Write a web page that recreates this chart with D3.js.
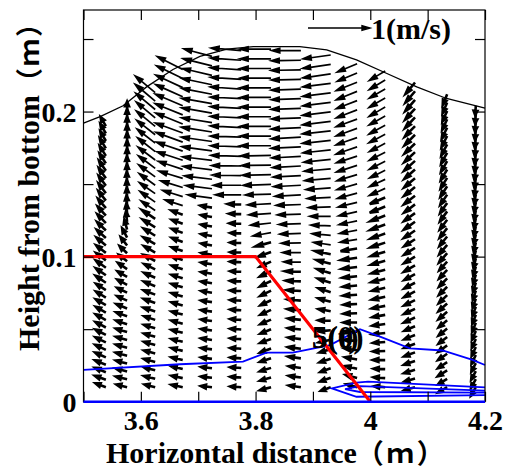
<!DOCTYPE html>
<html><head><meta charset="utf-8">
<script src="https://cdn.jsdelivr.net/npm/d3@7"></script>
<style>body{margin:0;background:#fff}svg{display:block}</style>
</head><body>
<svg id="chart" width="508" height="468"></svg>
<script>
// Grid columns (m) and the height of the top grid node in each column (m)
const colX   = [3.539, 3.576, 3.625, 3.673, 3.724, 3.775, 3.827, 3.879, 3.931, 3.977, 4.026, 4.078, 4.134, 4.184];
const colTop = [0.190, 0.200, 0.213, 0.229, 0.238, 0.242, 0.243, 0.242, 0.239, 0.233, 0.228, 0.220, 0.212, 0.204];
const bedY = 0.010;      // lowest grid node
const nLevels = 36;      // nodes per column, bottom to top

// Flow direction (degrees, 180 = offshore) and speed (m/s) at each node, bottom to top
const dirDeg = [
  [160,160,158,158,156,155, 154,153,152,151,150,150, 148,147,146,145,144,143, 142,140,138,136,134,132, 130,128,127,126,125,124, 123,122,121,120,120,120],
  [166,166,165,165,165,164, 164,163,162,160,158,156, 154,152,150,146,142,136, 128,118,105,96,94,93, 92,92,92,91,91,90, 90,90,90,90,90,90],
  [166,166,165,165,165,164, 164,163,162,162,160,160, 158,156,154,152,150,150, 148,148,146,146,145,145, 144,144,143,143,142,142, 142,141,140,140,140,140],
  [168,168,167,167,166,166, 166,165,165,164,164,163, 163,162,162,161,160,160, 160,160,162,163,163,163, 162,162,161,160,160,158, 158,157,156,155,154,153],
  [174,174,173,173,173,172, 172,172,172,172,171,171, 171,171,170,170,170,170, 170,170,172,173,173,173, 173,172,172,171,171,170, 170,169,168,167,166,165],
  [176,176,176,176,176,176, 176,176,176,177,177,177, 177,177,178,178,178,178, 178,178,180,180,179,179, 178,178,178,177,177,177, 177,176,176,176,176,175],
  [195,196,197,198,200,200, 202,203,204,205,206,206, 205,204,200,195,190,186, 184,183,182,182,181,181, 181,180,180,180,180,180, 180,180,180,180,180,180],
  [172,172,172,172,173,173, 174,174,175,175,176,177, 178,179,180,181,182,182, 182,182,183,183,183,183, 183,183,183,183,182,182, 182,182,181,181,181,180],
  [200,200,200,198,196,192, 185,178,170,165,162,162, 163,165,168,172,175,178, 180,182,183,184,185,185, 186,186,186,186,187,187, 187,187,187,188,188,188],
  [165,165,168,170,172,175, 178,180,182,183,184,185, 186,187,188,189,190,191, 192,193,194,195,196,197, 198,198,199,199,200,200, 201,201,202,202,203,203],
  [175,176,178,180,182,184, 186,188,190,191,192,193, 194,195,196,197,198,199, 200,201,202,203,204,205, 206,207,207,208,208,209, 209,210,210,210,211,211],
  [195,196,197,198,200,201, 202,203,204,205,206,207, 208,209,210,211,212,213, 214,215,216,217,218,219, 220,221,222,223,224,225, 226,227,228,229,230,230],
  [210,211,212,214,215,216, 218,219,220,221,222,224, 225,226,227,228,229,230, 231,232,233,234,235,236, 237,238,239,240,241,242, 243,244,245,246,247,248],
  [240,241,242,243,244,245, 246,247,248,249,250,251, 252,253,254,255,256,257, 258,258,259,259,260,260, 261,261,262,262,263,263, 264,264,265,265,266,266]
];
const speed = [
  [0.18,0.19,0.19,0.19,0.19,0.19, 0.19,0.19,0.19,0.19,0.19,0.19, 0.19,0.19,0.20,0.20,0.20,0.20, 0.20,0.20,0.20,0.20,0.20,0.20, 0.20,0.20,0.20,0.20,0.20,0.20, 0.19,0.19,0.19,0.18,0.18,0.17],
  [0.18,0.19,0.19,0.19,0.19,0.19, 0.19,0.19,0.19,0.19,0.19,0.18, 0.18,0.18,0.18,0.18,0.17,0.17, 0.17,0.17,0.17,0.17,0.17,0.17, 0.17,0.17,0.17,0.17,0.17,0.17, 0.17,0.17,0.17,0.17,0.17,0.16],
  [0.18,0.19,0.19,0.19,0.19,0.19, 0.19,0.19,0.19,0.20,0.20,0.20, 0.20,0.20,0.20,0.21,0.21,0.22, 0.22,0.24,0.26,0.28,0.30,0.31, 0.32,0.33,0.34,0.35,0.36,0.37, 0.38,0.39,0.40,0.41,0.42,0.42],
  [0.19,0.19,0.19,0.19,0.19,0.19, 0.19,0.19,0.19,0.19,0.19,0.19, 0.19,0.19,0.19,0.19,0.19,0.19, 0.19,0.20,0.30,0.34,0.37,0.40, 0.42,0.44,0.45,0.46,0.47,0.47, 0.48,0.48,0.48,0.48,0.47,0.46],
  [0.18,0.18,0.18,0.18,0.18,0.18, 0.18,0.18,0.18,0.18,0.18,0.18, 0.18,0.18,0.18,0.18,0.18,0.18, 0.18,0.19,0.40,0.43,0.45,0.47, 0.48,0.49,0.50,0.50,0.50,0.50, 0.50,0.50,0.50,0.49,0.48,0.47],
  [0.18,0.18,0.18,0.18,0.18,0.18, 0.18,0.18,0.18,0.18,0.18,0.18, 0.18,0.18,0.18,0.18,0.18,0.19, 0.20,0.22,0.42,0.45,0.47,0.48, 0.49,0.50,0.50,0.50,0.50,0.50, 0.50,0.50,0.50,0.50,0.50,0.49],
  [0.19,0.19,0.19,0.19,0.19,0.19, 0.19,0.19,0.19,0.19,0.20,0.20, 0.20,0.20,0.22,0.26,0.30,0.33, 0.36,0.38,0.42,0.45,0.47,0.48, 0.49,0.50,0.50,0.50,0.50,0.50, 0.50,0.50,0.50,0.50,0.50,0.50],
  [0.20,0.20,0.20,0.21,0.21,0.21, 0.21,0.21,0.22,0.22,0.23,0.24, 0.26,0.28,0.30,0.32,0.34,0.36, 0.38,0.40,0.42,0.44,0.45,0.46, 0.47,0.48,0.48,0.48,0.48,0.48, 0.48,0.48,0.48,0.48,0.48,0.47],
  [0.17,0.18,0.18,0.19,0.19,0.20, 0.20,0.20,0.20,0.21,0.21,0.22, 0.23,0.24,0.26,0.28,0.30,0.32, 0.34,0.36,0.38,0.40,0.42,0.43, 0.44,0.45,0.46,0.46,0.46,0.46, 0.46,0.46,0.46,0.46,0.46,0.45],
  [0.18,0.19,0.20,0.20,0.21,0.21, 0.21,0.22,0.22,0.22,0.23,0.23, 0.24,0.25,0.26,0.27,0.28,0.29, 0.30,0.31,0.32,0.33,0.34,0.34, 0.35,0.35,0.36,0.36,0.36,0.36, 0.36,0.36,0.36,0.36,0.35,0.35],
  [0.18,0.19,0.19,0.20,0.20,0.20, 0.21,0.21,0.21,0.22,0.22,0.22, 0.23,0.23,0.24,0.24,0.25,0.25, 0.26,0.26,0.27,0.27,0.28,0.28, 0.28,0.29,0.29,0.29,0.30,0.30, 0.30,0.30,0.30,0.30,0.30,0.30],
  [0.18,0.18,0.19,0.19,0.19,0.19, 0.19,0.19,0.20,0.20,0.20,0.20, 0.20,0.20,0.21,0.21,0.21,0.21, 0.22,0.22,0.22,0.22,0.23,0.23, 0.23,0.23,0.24,0.24,0.24,0.24, 0.24,0.24,0.24,0.24,0.24,0.24],
  [0.17,0.17,0.18,0.18,0.18,0.18, 0.18,0.18,0.18,0.19,0.19,0.19, 0.19,0.19,0.19,0.19,0.20,0.20, 0.20,0.20,0.20,0.20,0.20,0.20, 0.20,0.20,0.20,0.20,0.20,0.20, 0.20,0.20,0.19,0.19,0.19,0.19],
  [0.16,0.16,0.16,0.16,0.16,0.16, 0.16,0.16,0.16,0.16,0.16,0.16, 0.16,0.16,0.16,0.16,0.16,0.16, 0.16,0.16,0.16,0.16,0.16,0.16, 0.16,0.16,0.16,0.16,0.16,0.16, 0.16,0.16,0.16,0.16,0.16,0.15]
];

// Water surface profile
const surfX = [3.500, 3.529, 3.569, 3.610, 3.656, 3.703, 3.750, 3.796, 3.877, 3.924, 3.976, 4.028, 4.081, 4.133, 4.200];
const surfY = [0.192, 0.1965, 0.204, 0.217, 0.229, 0.238, 0.243, 0.2448, 0.2448, 0.2425, 0.2356, 0.2264, 0.217, 0.209, 0.2023];

// Submerged structure outline
const structX = [3.50, 3.80, 4.00];
const structY = [0.10, 0.10, 0.00];

// Contour lines
const contA_X = [3.500, 3.668, 3.778, 3.819, 3.865, 3.930, 3.982, 4.017, 4.069, 4.126, 4.177, 4.200];
const contA_Y = [0.0219, 0.0258, 0.0276, 0.0338, 0.0338, 0.0390, 0.0500, 0.0448, 0.0368, 0.0353, 0.0290, 0.0253];
const contB_X = [4.200, 3.996, 3.976, 3.933, 3.976, 4.200];
const contB_Y = [0.0099, 0.0138, 0.0131, 0.0092, 0.0034, 0.0046];
const contC_X = [4.200, 3.982, 3.956, 3.982, 4.200];
const contC_Y = [0.0077, 0.0108, 0.0086, 0.0067, 0.0063];
const bedLineX = [3.5, 4.2];
const bedLineY = [0, 0];

// Axes
const xTicks = [3.5, 3.6, 3.7, 3.8, 3.9, 4.0, 4.1, 4.2];
const xTickLabels = ["", "3.6", "", "3.8", "", "4", "", "4.2"];
const yTicks = [0, 0.05, 0.10, 0.15, 0.20, 0.25];
const yTickLabels = ["0", "", "0.1", "", "0.2", ""];
const refSpeed = 1;   // m/s, key arrow

const svg = d3.select("#chart");
const L = 83.5, R = 485, T = 10, B = 401.7;
const x = d3.scaleLinear().domain([3.5, 4.2]).range([L, R]);
const y = d3.scaleLinear().domain([0, 0.27]).range([B, T]);
const vel = d3.scaleLinear().domain([0, 1]).range([0, 62]);   // px per m/s

const serif = "'Liberation Serif','Times New Roman',serif";
const cjk = "'Noto Sans CJK JP',sans-serif";

// Short vectors read as thick wedges, long ones as thin shafts with a head
function arrowPath(x0, y0, dx, dy) {
  const len = Math.hypot(dx, dy);
  if (len < 0.5) return "";
  const ux = dx / len, uy = dy / len;
  const short = len < 17;
  const hl = short ? len * 0.45 : 8, hw = short ? 1.9 : 2.3;
  const x1 = x0 + dx, y1 = y0 + dy;
  const bx = x1 - ux * hl, by = y1 - uy * hl;
  return `M${x0},${y0}L${bx},${by}` +
    `M${x1},${y1}L${bx - uy * hw},${by + ux * hw}L${bx + uy * hw},${by - ux * hw}Z`;
}

// Velocity vectors
const vectors = [];
colX.forEach((cx, i) => {
  for (let k = 0; k < nLevels; k++) {
    const yy = bedY + k * (colTop[i] - bedY) / (nLevels - 1);
    const a = dirDeg[i][k] * Math.PI / 180, s = speed[i][k];
    vectors.push({ px: x(cx), py: y(yy), dx: vel(s * Math.cos(a)), dy: -vel(s * Math.sin(a)) });
  }
});
svg.append("g").selectAll("path").data(vectors).join("path")
  .attr("d", d => arrowPath(d.px, d.py, d.dx, d.dy))
  .attr("fill", "#000").attr("stroke", "#000")
  .attr("stroke-width", d => Math.hypot(d.dx, d.dy) < 17 ? 2.6 : 1.7)
  .attr("stroke-linejoin", "miter");

const line = d3.line().x(d => x(d[0])).y(d => y(d[1]));
const zip = (a, b) => a.map((v, i) => [v, b[i]]);

svg.append("path").attr("d", line(zip(surfX, surfY)))
  .attr("fill", "none").attr("stroke", "#000").attr("stroke-width", 1.3);

[[contA_X, contA_Y], [contB_X, contB_Y], [contC_X, contC_Y]].forEach(([cx, cy]) => {
  svg.append("path").attr("d", line(zip(cx, cy)))
    .attr("fill", "none").attr("stroke", "#0000ff").attr("stroke-width", 1.8);
});

svg.append("path").attr("d", line(zip(structX, structY)))
  .attr("fill", "none").attr("stroke", "#ff0000").attr("stroke-width", 3.2);

// Frame and ticks
svg.append("rect").attr("x", L).attr("y", T).attr("width", R - L).attr("height", B - T)
  .attr("fill", "none").attr("stroke", "#000").attr("stroke-width", 1.2);

const axB = svg.append("g").attr("transform", `translate(0,${B})`)
  .call(d3.axisBottom(x).tickValues(xTicks).tickSize(-10).tickFormat((d, i) => xTickLabels[i]));
const axT = svg.append("g").attr("transform", `translate(0,${T})`)
  .call(d3.axisTop(x).tickValues(xTicks).tickSize(-10).tickFormat(""));
const axL = svg.append("g").attr("transform", `translate(${L},0)`)
  .call(d3.axisLeft(y).tickValues(yTicks).tickSize(-10).tickPadding(7)
    .tickFormat((d, i) => yTickLabels[i]));
const axR = svg.append("g").attr("transform", `translate(${R},0)`)
  .call(d3.axisRight(y).tickValues(yTicks).tickSize(-10).tickFormat(""));
[axB, axT, axL, axR].forEach(g => {
  g.select(".domain").remove();
  g.selectAll(".tick line").attr("stroke", "#000").attr("stroke-width", 1.2);
  g.selectAll("text").attr("fill", "#000").attr("font-family", serif)
    .attr("font-weight", "bold").attr("font-size", 28);
});
axB.selectAll("text").attr("y", 28.5).attr("dy", 0);
axL.selectAll("text").attr("dy", "0.34em");

// Blue bed line drawn over the frame
svg.append("path").attr("d", line(zip(bedLineX, bedLineY)))
  .attr("fill", "none").attr("stroke", "#0000ff").attr("stroke-width", 2.6);

// Key arrow
const kx = 308, ky = 28;
svg.append("path").attr("d", arrowPath(kx, ky, vel(refSpeed), 0))
  .attr("fill", "#000").attr("stroke", "#000").attr("stroke-width", 1.4);
svg.append("text").attr("x", 371).attr("y", 39).text(refSpeed + "(m/s)")
  .attr("font-family", serif).attr("font-weight", "bold").attr("font-size", 30);

// Time labels
["5(0)", "5(t)"].forEach(t => {
  svg.append("text").attr("x", 312).attr("y", 348).text(t)
    .attr("font-family", serif).attr("font-weight", "bold").attr("font-size", 31);
});

// Axis titles
const xt = svg.append("text").attr("x", 106).attr("y", 463)
  .attr("font-family", serif).attr("font-weight", "bold").attr("font-size", 30);
xt.append("tspan").text("Horizontal distance");
xt.append("tspan").attr("font-family", cjk).attr("font-size", 27).attr("letter-spacing", 3).text("（ｍ）");
const yt = svg.append("text").attr("transform", "translate(39,351) rotate(-90)")
  .attr("font-family", serif).attr("font-weight", "bold").attr("font-size", 30);
yt.append("tspan").text("Height from bottom");
yt.append("tspan").attr("font-family", cjk).attr("font-size", 27).attr("letter-spacing", 2).text("（ｍ）");
</script>
</body></html>
